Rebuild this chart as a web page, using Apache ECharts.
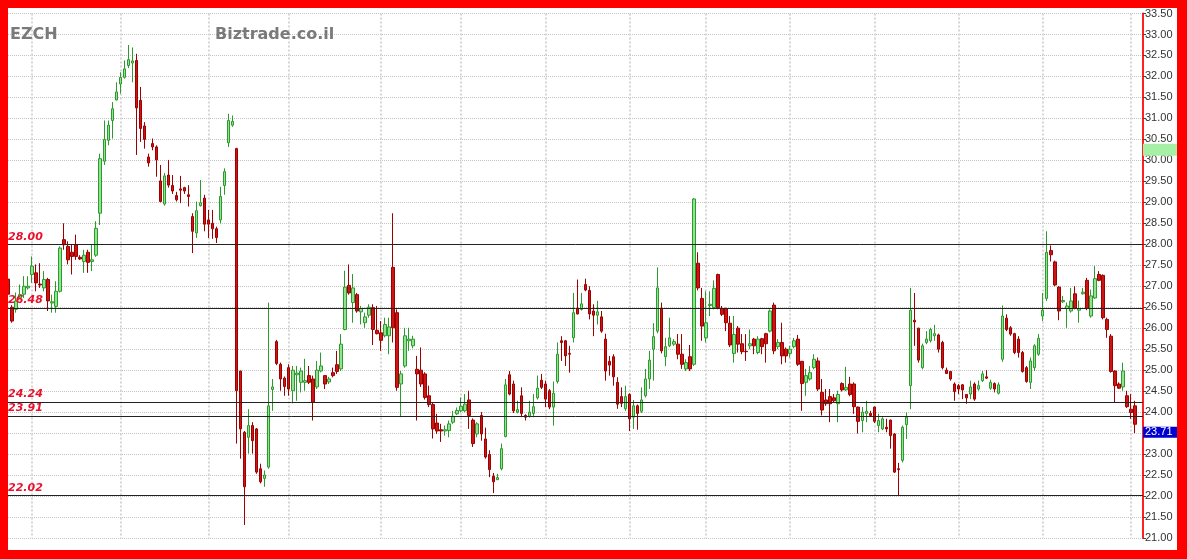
<!DOCTYPE html>
<html>
<head>
<meta charset="utf-8">
<script src="https://cdn.jsdelivr.net/npm/echarts@6/dist/echarts.min.js"></script>
<style>
html,body{margin:0;padding:0;background:#ff0000;width:1187px;height:559px;overflow:hidden}
#c{position:absolute;left:8px;top:8px;width:1169px;height:542px;background:#ffffff}
</style>
</head>
<body>
<div id="c"></div>
<script>
// [open, close, low, high]
const ohlc = [
[27.17,26.81,26.75,27.25],[26.50,26.17,26.13,26.55],[26.45,26.65,26.37,26.85],[26.72,26.80,26.70,27.04],
[26.81,27.00,26.72,27.24],[26.96,27.00,26.92,27.24],[27.28,27.48,27.08,27.71],[27.32,27.08,26.88,27.52],
[27.05,27.03,26.96,27.55],[26.96,27.16,26.88,27.36],[27.16,26.65,26.41,27.20],[26.60,26.63,26.37,26.80],
[26.52,26.88,26.37,27.12],[26.88,27.91,26.85,27.95],[28.11,27.99,27.87,28.50],[27.95,27.63,27.52,28.07],
[27.81,27.71,27.28,27.99],[27.99,27.71,27.63,28.23],[27.69,27.65,27.63,27.74],[27.59,27.74,27.32,27.87],
[27.81,27.57,27.32,27.87],[27.59,27.63,27.36,27.99],[27.74,28.38,27.70,28.55],[28.74,30.04,28.46,30.16],
[29.98,30.50,29.89,30.95],[30.48,30.84,30.36,30.95],[30.95,31.23,30.52,31.39],[31.44,31.63,31.43,31.86],
[31.82,31.98,31.59,32.10],[31.98,32.18,31.95,32.38],[32.26,32.40,32.20,32.75],[32.32,32.37,31.86,32.69],
[32.38,31.25,30.13,32.54],[31.43,30.76,30.44,31.75],[30.82,30.50,30.28,30.91],[30.08,29.94,29.85,30.16],
[30.40,30.32,30.24,30.52],[30.32,30.01,29.61,30.36],[29.51,29.02,29.00,29.89],[28.96,29.63,28.92,29.70],
[29.65,29.41,29.35,30.01],[29.40,29.27,29.20,29.65],[29.16,29.06,29.02,29.25],[29.32,29.29,28.98,29.63],
[29.35,29.27,29.20,29.37],[29.18,29.14,28.90,29.41],[28.66,28.31,27.79,28.74],[28.27,28.80,28.15,29.02],
[28.92,28.99,28.90,29.53],[29.10,28.48,28.31,29.18],[28.58,28.48,28.15,28.82],[28.50,28.37,28.13,28.82],
[28.37,28.16,28.03,28.42],[28.58,29.14,28.50,29.37],[29.40,29.73,29.18,29.81],[30.42,30.95,30.32,31.11],
[30.84,30.93,30.80,31.07],[30.28,24.51,23.25,30.30],[24.98,23.60,22.89,24.98],[23.52,22.22,21.31,23.55],
[23.40,23.68,23.01,24.07],[23.68,23.32,23.01,23.76],[23.60,22.57,22.53,23.62],[22.65,22.34,22.30,22.77],
[22.42,22.50,22.22,22.61],[22.69,24.15,22.65,26.61],[24.54,24.60,24.03,24.79],[25.68,25.16,25.12,25.72],
[25.14,24.79,24.51,25.18],[24.81,24.61,24.39,24.85],[25.06,24.55,24.39,25.14],[24.51,25.00,24.21,25.10],
[24.89,24.93,24.27,25.10],[24.71,24.98,24.47,25.06],[24.71,24.75,24.51,25.27],[24.87,24.71,24.67,25.10],
[24.79,24.24,23.80,24.87],[24.60,25.00,24.55,25.22],[24.98,25.10,24.95,25.42],[24.87,24.67,24.55,24.87],
[24.72,24.79,24.67,24.84],[24.94,24.87,24.83,25.06],[25.13,24.97,24.91,25.46],[25.03,25.62,24.98,25.86],
[25.97,26.98,25.95,27.37],[27.02,26.84,26.80,27.52],[26.61,26.96,26.13,27.29],[26.80,26.41,26.37,26.84],
[26.39,26.47,26.09,26.53],[26.13,26.27,26.01,26.37],[26.31,26.50,26.25,26.57],[26.49,25.97,25.60,26.57],
[25.95,25.87,25.85,26.53],[25.89,25.71,25.46,26.17],[25.82,26.09,25.78,26.25],[25.82,26.03,25.38,26.25],
[27.45,26.01,25.66,28.74],[26.37,24.59,24.51,26.45],[24.67,24.91,23.88,24.98],[25.10,25.82,25.06,26.01],
[25.70,25.74,25.46,26.01],[25.58,25.74,25.52,25.82],[25.02,24.91,23.80,25.34],[25.00,24.67,24.60,25.54],
[24.91,24.35,24.30,24.95],[24.39,24.18,24.12,24.63],[24.18,23.60,23.37,24.22],[23.74,23.55,23.48,23.96],
[23.58,23.55,23.29,23.72],[23.55,23.58,23.44,23.68],[23.56,23.72,23.40,23.80],[23.76,23.90,23.72,24.03],
[23.96,24.04,23.93,24.11],[24.03,24.14,24.00,24.35],[24.03,24.19,24.00,24.43],[24.29,23.92,23.60,24.51],
[23.81,23.25,23.17,23.85],[23.48,23.72,23.40,23.76],[23.92,23.48,23.32,24.00],[23.36,22.93,22.89,23.63],
[22.99,22.63,22.45,23.09],[22.47,22.34,22.07,22.55],[22.39,22.44,22.38,22.53],[22.65,23.13,22.61,23.25],
[23.42,24.65,23.40,24.79],[24.89,24.43,24.40,24.98],[24.67,24.03,23.98,24.75],[24.00,24.06,23.97,24.27],
[24.39,23.97,23.88,24.59],[23.92,23.88,23.80,23.95],[23.90,24.00,23.87,24.27],[23.97,24.13,23.88,24.43],
[24.34,24.57,24.30,24.87],[24.76,24.59,24.55,24.91],[24.67,24.31,24.12,24.75],[24.51,24.12,24.07,24.55],
[24.12,24.45,23.68,24.73],[24.73,25.38,24.68,25.66],[25.70,25.66,25.22,25.81],[25.70,25.34,25.10,25.72],
[25.40,25.38,24.94,25.58],[25.77,26.37,25.66,26.84],[26.47,26.34,26.33,27.16],[26.45,26.58,26.42,26.84],
[27.04,26.91,26.88,27.18],[26.90,26.34,26.21,27.00],[26.41,26.31,25.81,26.57],[26.31,26.39,26.09,26.65],
[26.27,25.93,25.89,26.41],[25.74,24.98,24.75,25.87],[25.21,25.12,24.87,25.34],[25.32,24.84,24.63,25.38],
[24.71,24.19,24.08,24.83],[24.37,24.21,24.12,24.59],[24.08,24.37,24.03,24.63],[24.42,23.84,23.55,24.45],
[23.88,24.15,23.60,24.29],[24.15,23.97,23.58,24.18],[24.02,24.29,23.98,24.59],[24.39,24.79,24.35,25.03],
[24.79,25.24,24.55,25.46],[25.50,25.80,24.75,26.12],[25.93,26.96,25.88,27.45],[26.47,25.46,25.40,26.61],
[25.32,25.56,25.10,25.77],[25.58,25.77,25.55,26.25],[25.62,25.68,25.58,25.74],[25.62,25.38,25.26,25.86],
[25.38,25.14,25.03,25.86],[25.03,25.18,24.98,25.26],[25.32,25.03,24.98,25.60],[25.14,29.08,25.10,29.10],
[27.55,26.96,26.90,27.81],[26.71,26.05,25.70,26.96],[25.77,26.13,25.66,26.88],[26.54,26.57,26.29,26.88],
[26.49,26.95,26.45,27.14],[27.28,26.49,26.45,27.30],[26.47,26.33,26.29,26.53],[26.47,26.13,25.93,26.49],
[26.12,25.60,25.55,26.29],[25.40,25.85,25.18,26.29],[26.00,25.62,25.42,26.05],[25.63,25.44,25.38,25.86],
[25.45,25.44,25.22,25.86],[25.58,25.63,25.50,25.97],[25.74,25.58,25.38,25.77],[25.42,25.74,25.38,25.81],
[25.75,25.56,25.38,25.77],[25.87,25.63,25.18,25.89],[25.93,26.41,25.90,26.45],[26.55,25.46,25.38,26.61],
[25.56,25.66,25.50,25.74],[25.66,25.34,25.14,26.13],[25.50,25.34,25.18,25.54],[25.40,25.50,25.30,25.58],
[25.56,25.70,25.52,25.77],[25.74,25.14,25.10,25.84],[25.21,24.68,24.03,25.22],[24.71,24.87,24.39,25.03],
[24.79,24.94,24.75,25.10],[25.06,25.26,25.02,25.38],[25.22,24.55,24.50,25.30],[24.47,24.05,23.92,24.79],
[24.29,24.20,24.15,24.55],[24.37,24.20,23.76,24.55],[24.34,24.27,24.23,24.43],[24.20,24.42,23.76,24.51],
[24.68,24.53,24.49,24.71],[24.53,24.59,24.50,25.08],[24.67,24.42,24.38,24.84],[24.67,24.13,23.96,24.71],
[24.12,23.78,23.49,24.13],[23.80,24.00,23.52,24.12],[23.97,24.02,23.76,24.27],[23.97,23.92,23.88,24.03],
[24.12,23.78,23.74,24.13],[23.68,23.80,23.52,23.96],[23.60,23.84,23.57,23.88],[23.64,23.60,23.52,23.84],
[23.81,23.44,23.13,23.82],[23.48,22.57,22.55,23.50],[22.65,22.63,22.02,22.79],[22.85,23.64,22.80,23.68],
[23.70,23.88,23.36,23.99],[24.63,26.43,24.07,26.96],[26.19,26.15,25.58,26.84],[26.00,25.24,25.18,26.01],
[25.06,25.58,25.02,25.63],[25.66,25.74,25.62,25.93],[25.70,25.97,25.66,26.01],[25.82,25.87,25.70,26.08],
[25.84,25.50,25.42,25.87],[25.66,25.06,25.02,25.70],[25.00,24.92,24.91,25.06],[24.97,24.79,24.75,24.98],
[24.67,24.49,24.27,24.71],[24.63,24.55,24.43,24.67],[24.65,24.53,24.31,24.67],[24.42,24.34,24.20,24.43],
[24.43,24.60,24.31,24.75],[24.67,24.31,24.27,24.71],[24.55,24.63,24.51,24.75],[24.75,24.91,24.72,24.98],
[24.84,24.81,24.79,25.00],[24.57,24.71,24.53,24.77],[24.68,24.55,24.47,24.71],[24.45,24.65,24.42,24.71],
[25.26,26.29,25.20,26.54],[26.24,25.97,25.93,26.33],[26.01,25.86,25.82,26.05],[25.87,25.42,25.38,25.89],
[25.74,25.42,25.30,25.81],[25.42,24.97,24.94,25.46],[25.06,24.73,24.70,25.10],[24.71,25.22,24.55,25.30],
[25.06,25.58,24.98,25.62],[25.38,25.76,25.34,25.86],[26.29,26.43,26.17,26.84],[26.71,27.81,26.65,28.31],
[27.85,27.75,27.59,27.97],[27.58,27.03,27.00,27.61],[26.98,26.41,26.19,27.00],[26.63,26.66,26.60,26.77],
[26.47,26.53,26.01,26.61],[26.41,26.65,26.37,26.96],[26.82,26.47,26.45,27.00],[26.43,26.47,26.13,26.66],
[26.82,26.86,26.80,26.96],[27.14,26.47,26.43,27.20],[26.29,26.77,26.25,26.92],[26.72,27.18,26.70,27.48],
[27.28,27.14,27.12,27.36],[27.26,26.25,26.21,27.28],[26.21,25.97,25.77,26.25],[25.81,24.97,24.94,25.86],
[24.98,24.63,24.24,25.00],[24.67,24.57,24.55,24.71],[24.60,24.98,24.51,25.18],[24.39,24.13,24.10,24.51],
[24.07,23.99,23.84,24.43],[24.15,23.71,23.50,24.27]
];
const categories = ohlc.map((_, i) => 'D' + (i + 1));
const monthStarts = [6, 28, 50, 70, 93, 113, 134, 155, 174, 195, 216, 237, 258, 280];
const levels = [28.00, 26.48, 24.24, 23.91, 22.02];
const lastPrice = 23.71;
const greenMark = 30.25;
const yMin = 21.0, yMax = 33.5, yStep = 0.5;
const symbolName = 'EZCH';
const siteName = 'Biztrade.co.il';

const chart = echarts.init(document.getElementById('c'));
chart.setOption({
  animation: false,
  backgroundColor: '#ffffff',
  grid: { left: 0, right: 34, top: 3, bottom: 12 },
  title: [
    { text: symbolName, left: 2, top: 19, padding: 0,
      textStyle: { fontFamily: 'DejaVu Sans', fontWeight: 'bold', fontSize: 16, color: '#7a7a7a' } },
    { text: siteName, left: 207, top: 19, padding: 0,
      textStyle: { fontFamily: 'DejaVu Sans', fontWeight: 'bold', fontSize: 16, color: '#7a7a7a' } }
  ],
  xAxis: {
    type: 'category', data: categories, boundaryGap: false, max: ohlc.length + 1,
    axisLine: { show: false }, axisTick: { show: false }, axisLabel: { show: false },
    splitLine: { show: true, interval: (i) => monthStarts.includes(i),
      lineStyle: { color: '#d6d6d6', width: 2, type: 'dotted' } }
  },
  yAxis: {
    type: 'value', position: 'right', min: yMin, max: yMax, interval: yStep, scale: true,
    axisLine: { show: true, lineStyle: { color: '#ff2020', width: 2 } },
    axisTick: { show: true, length: 3, lineStyle: { color: '#444' } },
    axisLabel: { formatter: (v) => v.toFixed(2), color: '#333', fontSize: 11,
      fontFamily: 'Liberation Sans', margin: 2 },
    splitLine: { show: true, lineStyle: { color: '#c4c4c4', type: 'dotted', width: 1 } }
  },
  series: [{
    type: 'candlestick',
    data: ohlc,
    barWidth: 3,
    itemStyle: { color: '#8fe58f', color0: '#cc1515', borderColor: '#2c9a2c', borderColor0: '#9e0000', borderWidth: 1 },
    markLine: {
      symbol: 'none', silent: true, animation: false,
      lineStyle: { color: '#222', width: 1, type: 'solid' },
      label: { position: 'insideStartTop', formatter: (p) => p.value.toFixed(2),
        color: '#e8102a', fontStyle: 'italic', fontWeight: 'bold', fontFamily: 'DejaVu Sans', fontSize: 11,
        distance: [0, 2] },
      data: levels.map(v => ({ yAxis: v })).concat([
        { yAxis: lastPrice, lineStyle: { color: 'rgba(0,0,0,0)', width: 0.01 },
          label: { show: true, position: 'end', formatter: lastPrice.toFixed(2), color: '#ffffff', fontStyle: 'normal',
            fontWeight: 'normal', fontFamily: 'Liberation Sans', fontSize: 11, backgroundColor: '#0000d0',
            padding: [0, 2], width: 30, height: 11, lineHeight: 11, distance: 0, offset: [0, 8] } },
        { yAxis: greenMark, lineStyle: { color: 'rgba(0,0,0,0)', width: 0.01 },
          label: { show: true, position: 'end', formatter: ' ', color: '#a6f0a6', backgroundColor: '#a6f0a6', padding: 0,
            width: 34, height: 12, lineHeight: 12, distance: 0 } }
      ])
    }
  }]
});
</script>
</body>
</html>
